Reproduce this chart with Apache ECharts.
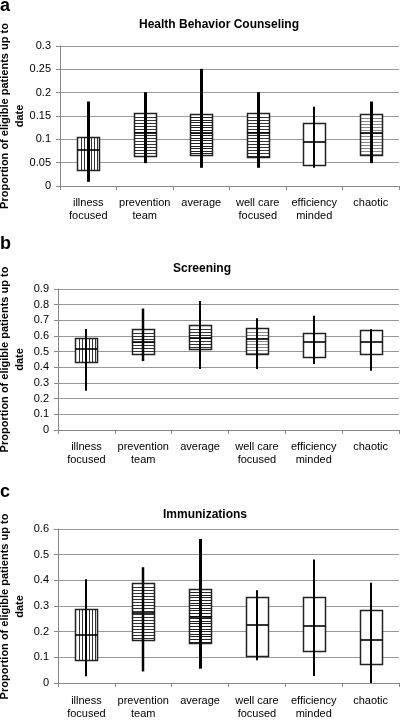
<!DOCTYPE html>
<html><head><meta charset="utf-8">
<script src="https://cdn.jsdelivr.net/npm/echarts@6/dist/echarts.min.js"></script>
<style>html,body{margin:0;padding:0;background:#fff}#c{width:400px;height:720px}</style>
</head><body><div id="c"></div>
<script>
const categories = ['illness\nfocused', 'prevention\nteam', 'average', 'well care\nfocused', 'efficiency\nminded', 'chaotic'];

// Panel a: Health Behavior Counseling
const counselingWhiskerLow  = [0.009, 0.049, 0.039, 0.039, 0.039, 0.049];
const counselingBoxLow      = [0.034, 0.065, 0.066, 0.063, 0.045, 0.066];
const counselingMedian      = [0.078, 0.113, 0.114, 0.113, 0.094, 0.114];
const counselingBoxHigh     = [0.106, 0.156, 0.155, 0.157, 0.134, 0.155];
const counselingWhiskerHigh = [0.181, 0.201, 0.251, 0.201, 0.170, 0.181];

// Panel b: Screening
const screeningWhiskerLow  = [0.250, 0.440, 0.389, 0.389, 0.422, 0.378];
const screeningBoxLow      = [0.433, 0.482, 0.518, 0.486, 0.463, 0.482];
const screeningMedian      = [0.515, 0.563, 0.585, 0.582, 0.563, 0.563];
const screeningBoxHigh     = [0.588, 0.643, 0.669, 0.654, 0.622, 0.639];
const screeningWhiskerHigh = [0.645, 0.775, 0.824, 0.713, 0.730, 0.643];

// Panel c: Immunizations
const immunWhiskerLow  = [0.026, 0.045, 0.056, 0.089, 0.027, 0.000];
const immunBoxLow      = [0.089, 0.169, 0.154, 0.106, 0.123, 0.074];
const immunMedian      = [0.188, 0.273, 0.257, 0.226, 0.224, 0.169];
const immunBoxHigh     = [0.290, 0.391, 0.365, 0.335, 0.335, 0.286];
const immunWhiskerHigh = [0.404, 0.451, 0.561, 0.361, 0.481, 0.391];

// styles (kept apart from data)
const hatchA = ['v', 'h', 'hd', 'h', 'none', 'hl'];
const hatchB = ['v', 'h', 'h', 'hl', 'none', 'none'];
const hatchC = ['v', 'h', 'hd', 'none', 'none', 'none'];
const whiskerWA = [3, 3, 3, 3, 2, 3];
const whiskerWB = [2, 2.5, 2, 2, 2, 2];
const whiskerWC = [2, 2.5, 3, 2, 2, 2];

const hatchStyles = {
  v:  { dir: 'v', gap: 3.3, color: '#333' },
  h:  { dir: 'h', gap: 3,   color: '#333' },
  hd: { dir: 'h', gap: 2.6, color: '#222' },
  hl: { dir: 'h', gap: 3,   color: '#888' },
  none: null
};

const FONT = '"Liberation Sans", Arial, sans-serif';

function makeRender(hatch, whiskerW) {
  return function (params, api) {
    const i = api.value(0);
    const pLo = api.coord([i, api.value(1)]);
    const pQ1 = api.coord([i, api.value(2)]);
    const pMed = api.coord([i, api.value(3)]);
    const pQ3 = api.coord([i, api.value(4)]);
    const pHi = api.coord([i, api.value(5)]);
    const bw = api.size([1, 0])[0] * 0.39;
    const cx = pMed[0];
    const x0 = Math.round(cx - bw / 2) + 0.5, x1 = Math.round(cx + bw / 2) + 0.5;
    const yTop = Math.round(pQ3[1]) + 0.5, yBot = Math.round(pQ1[1]) + 0.5;
    const children = [];
    children.push({ type: 'rect', shape: { x: x0, y: yTop, width: x1 - x0, height: yBot - yTop }, style: { fill: '#fff' } });
    const h = hatchStyles[hatch[params.dataIndex]];
    if (h) {
      if (h.dir === 'h') {
        for (let y = yTop + h.gap; y < yBot - 1; y += h.gap) {
          const yy = Math.round(y) + 0.5;
          children.push({ type: 'line', shape: { x1: x0, y1: yy, x2: x1, y2: yy }, style: { stroke: h.color, lineWidth: 1 } });
        }
      } else {
        for (let x = x0 + h.gap; x < x1 - 1; x += h.gap) {
          const xx = Math.round(x) + 0.5;
          children.push({ type: 'line', shape: { x1: xx, y1: yTop, x2: xx, y2: yBot }, style: { stroke: h.color, lineWidth: 1 } });
        }
      }
    }
    children.push({ type: 'rect', shape: { x: x0, y: yTop, width: x1 - x0, height: yBot - yTop }, style: { fill: 'none', stroke: '#222', lineWidth: 1.5 } });
    const w = whiskerW[params.dataIndex];
    const wx = (w % 2 === 1) ? Math.round(cx) + 0.5 : Math.round(cx);
    children.push({ type: 'line', shape: { x1: wx, y1: pHi[1], x2: wx, y2: pLo[1] }, style: { stroke: '#000', lineWidth: w } });
    const my = Math.round(pMed[1]);
    children.push({ type: 'line', shape: { x1: x0, y1: my, x2: x1, y2: my }, style: { stroke: '#000', lineWidth: 1.6 } });
    return { type: 'group', children };
  };
}

function buildData(lo, q1, med, q3, hi) {
  return categories.map((c, i) => [i, lo[i], q1[i], med[i], q3[i], hi[i]]);
}

const grids = [
  { left: 60, right: 1, top: 46, height: 140 },
  { left: 58, right: 1, top: 289, height: 141 },
  { left: 58, right: 1, top: 529, height: 155 }
];
const yMax = [0.3, 0.9, 0.6];
const yInterval = [0.05, 0.1, 0.1];
const labelMargin = [10, 10, 11];

const xAxes = grids.map((g, k) => ({
  type: 'category', gridIndex: k, data: categories, boundaryGap: true,
  axisLine: { show: true, lineStyle: { color: '#888', width: 1 } },
  axisTick: { show: true, length: 4, lineStyle: { color: '#888' } },
  axisLabel: { color: '#000', fontSize: 11, fontFamily: FONT, lineHeight: 13, margin: labelMargin[k], interval: 0 },
  splitLine: { show: false }
}));
const yAxes = grids.map((g, k) => ({
  type: 'value', gridIndex: k, min: 0, max: yMax[k], interval: yInterval[k],
  axisLine: { show: true, lineStyle: { color: '#888', width: 1 } },
  axisTick: { show: true, length: 4, lineStyle: { color: '#888' } },
  axisLabel: { color: '#000', fontSize: 11, fontFamily: FONT, margin: 9 },
  splitLine: { show: true, lineStyle: { color: '#999', width: 1 } }
}));

const series = [
  { type: 'custom', xAxisIndex: 0, yAxisIndex: 0, renderItem: makeRender(hatchA, whiskerWA),
    encode: { x: 0, y: [1, 2, 3, 4, 5] },
    data: buildData(counselingWhiskerLow, counselingBoxLow, counselingMedian, counselingBoxHigh, counselingWhiskerHigh) },
  { type: 'custom', xAxisIndex: 1, yAxisIndex: 1, renderItem: makeRender(hatchB, whiskerWB),
    encode: { x: 0, y: [1, 2, 3, 4, 5] },
    data: buildData(screeningWhiskerLow, screeningBoxLow, screeningMedian, screeningBoxHigh, screeningWhiskerHigh) },
  { type: 'custom', xAxisIndex: 2, yAxisIndex: 2, renderItem: makeRender(hatchC, whiskerWC),
    encode: { x: 0, y: [1, 2, 3, 4, 5] },
    data: buildData(immunWhiskerLow, immunBoxLow, immunMedian, immunBoxHigh, immunWhiskerHigh) }
];

const titles = ['Health Behavior Counseling', 'Screening', 'Immunizations'];
const titlePos = [[219, 25], [202, 268.5], [205, 515]];
const letters = ['a', 'b', 'c'];
const letterTop = [-2.5, 235.5, 483.5];
const yTitle = 'Proportion of eligible patients up to\ndate';

const graphic = [];
grids.forEach((g, k) => {
  graphic.push({ type: 'text', x: titlePos[k][0], y: titlePos[k][1],
    style: { text: titles[k], font: 'bold 12px ' + FONT, fill: '#000', align: 'center', verticalAlign: 'middle' } });
  graphic.push({ type: 'text', x: 0, y: letterTop[k],
    style: { text: letters[k], font: 'bold 18px ' + FONT, fill: '#000', align: 'left', verticalAlign: 'top' } });
  graphic.push({ type: 'text', x: 12.5, y: g.top + g.height / 2, rotation: Math.PI / 2,
    style: { text: yTitle, font: 'bold 11px ' + FONT, lineHeight: 15, fill: '#000', align: 'center', verticalAlign: 'middle' } });
});

const chart = echarts.init(document.getElementById('c'), null, { renderer: 'canvas' });
chart.setOption({
  animation: false,
  backgroundColor: '#fff',
  grid: grids,
  xAxis: xAxes,
  yAxis: yAxes,
  series,
  graphic
});
</script></body></html>
